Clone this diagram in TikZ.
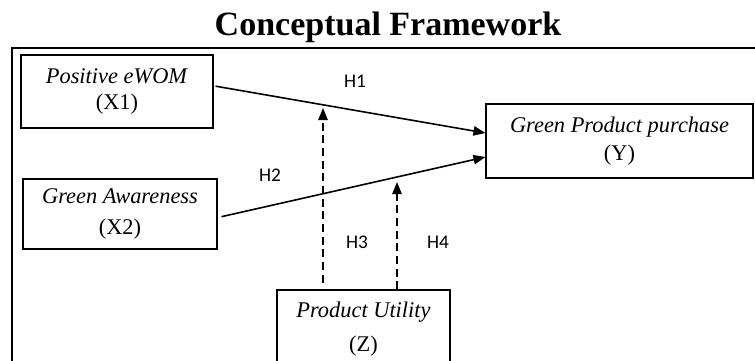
\documentclass[tikz,border=0pt]{standalone}
\usepackage{fontspec}
\setmainfont{Liberation Serif}
\newfontfamily\hfont{Carlito}
\usetikzlibrary{arrows.meta}

\begin{document}
\begin{tikzpicture}[x=0.75pt,y=-0.75pt,
  var/.style={draw,line width=0.8pt,align=center,inner sep=0pt,font=\fontsize{16.8}{21}\selectfont},
  hyp/.style={font=\hfont\fontsize{14.5}{17}\selectfont},
  effect/.style={line width=1.2pt,-{Triangle[length=9pt,width=7pt]}},
  moder/.style={effect,dash pattern=on 6pt off 3.5pt}]
\useasboundingbox (0,0) rectangle (755,360);
\begin{scope}
\clip (0,0) rectangle (755,360);
\draw[line width=1.4pt] (12,48) rectangle (775,385);
\end{scope}
\node[font=\bfseries\fontsize{25.5}{30}\selectfont,anchor=base] (title) at (388,36) {Conceptual Framework};
\node[var,minimum width=144pt,minimum height=54.75pt] (x1) at (117,91.5) {\textit{Positive eWOM}\\[-2pt](X1)};
\node[var,minimum width=145.5pt,minimum height=52.5pt] (x2) at (120,214) {\textit{Green Awareness}\\[2pt](X2)};
\node[var,minimum width=200.25pt,minimum height=55.5pt] (y) at (619.5,141) {\textit{Green Product purchase}\\(Y)};
\node[var,minimum width=129.75pt,minimum height=58.5pt] (z) at (363.5,329) {\textit{Product Utility}\\[4pt](Z)};
\coordinate (t3) at (323,108);
\coordinate (t4) at (397,182);
\draw[effect] ([xshift=1.5pt,yshift=4pt]x1.east) -- ([yshift=6pt]y.west);
\draw[effect] ([xshift=3pt,yshift=-2pt]x2.east) -- ([yshift=-12pt]y.west);
\draw[moder,shorten <=5pt] (t3 |- z.north) -- (t3);
\draw[moder] (t4 |- z.north) -- (t4);
\node[hyp] (h1) at (355,81) {H1};
\node[hyp] (h2) at (270,175) {H2};
\node[hyp] (h3) at (357,242) {H3};
\node[hyp] (h4) at (438,242) {H4};
\end{tikzpicture}
\end{document}
